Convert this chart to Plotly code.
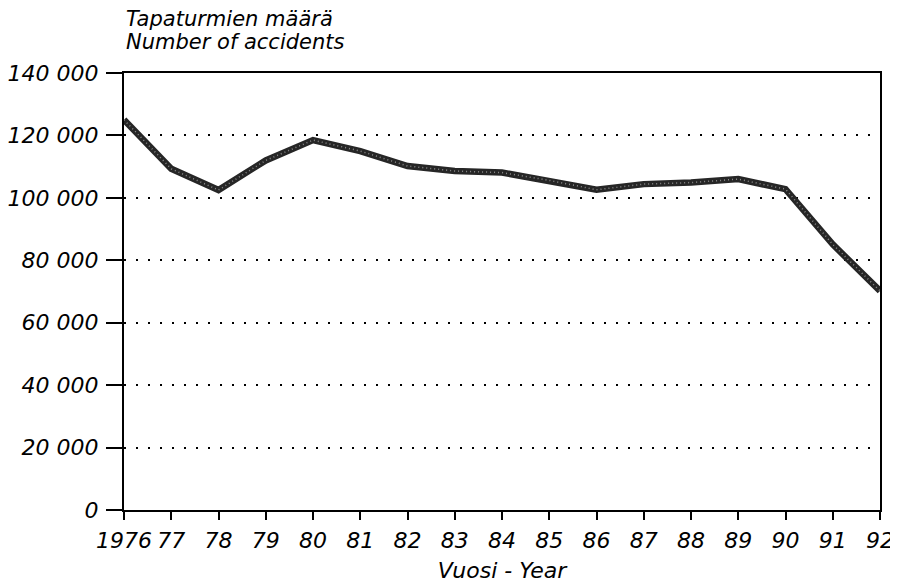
import plotly.graph_objects as go

years = list(range(1976, 1993))
year_labels = ["1976", "77", "78", "79", "80", "81", "82", "83", "84", "85",
               "86", "87", "88", "89", "90", "91", "92"]
accidents = [125000, 109300, 102500, 112000, 118500, 115000, 110200, 108600,
             108100, 105600, 102600, 104400, 104900, 106000, 102800, 85100, 70200]
y_ticks = [0, 20000, 40000, 60000, 80000, 100000, 120000, 140000]
y_tick_labels = ["0", "20 000", "40 000", "60 000", "80 000", "100 000", "120 000", "140 000"]
title_lines = ["Tapaturmien määrä", "Number of accidents"]
x_title = "Vuosi - Year"

FONT = "DejaVu Sans, Verdana, sans-serif"

fig = go.Figure()
fig.add_trace(go.Scatter(x=years, y=accidents, mode="lines",
                         line=dict(color="#262626", width=6.5), hoverinfo="skip"))
fig.add_trace(go.Scatter(x=years, y=accidents, mode="lines",
                         line=dict(color="#8c8c8c", width=1.5, dash="1px,3px"), hoverinfo="skip"))

fig.update_layout(
    width=898, height=588,
    margin=dict(l=116, r=26, t=65, b=86, autoexpand=False),
    paper_bgcolor="white", plot_bgcolor="white",
    showlegend=False,
    font=dict(family=FONT, color="black"),
)
fig.update_xaxes(
    range=[1976, 1992], tickvals=years, ticktext=year_labels,
    showgrid=False, zeroline=False,
    showline=True, linecolor="black", linewidth=2, mirror=True,
    ticks="outside", ticklen=8, tickwidth=2, tickcolor="black",
    ticklabelstandoff=2,
    tickfont=dict(family=FONT, size=22, style="italic"),
    title=dict(text=x_title, font=dict(family=FONT, size=22, style="italic"), standoff=10),
)
fig.update_yaxes(
    range=[0, 140000], tickvals=y_ticks, ticktext=y_tick_labels,
    showgrid=True, gridcolor="black", gridwidth=2, griddash="2px,10px",
    zeroline=False,
    showline=True, linecolor="black", linewidth=2, mirror=True,
    ticks="outside", ticklen=16, tickwidth=2, tickcolor="black",
    ticklabelstandoff=3,
    tickfont=dict(family=FONT, size=22, style="italic"),
)
for line_text, shift in zip(title_lines, [54, 31]):
    fig.add_annotation(
        text=line_text,
        xref="paper", yref="paper", x=0, y=1, xanchor="left", yanchor="middle",
        yshift=shift, align="left", showarrow=False,
        font=dict(family=FONT, size=21, style="italic"),
    )
fig.write_html("out.html")
